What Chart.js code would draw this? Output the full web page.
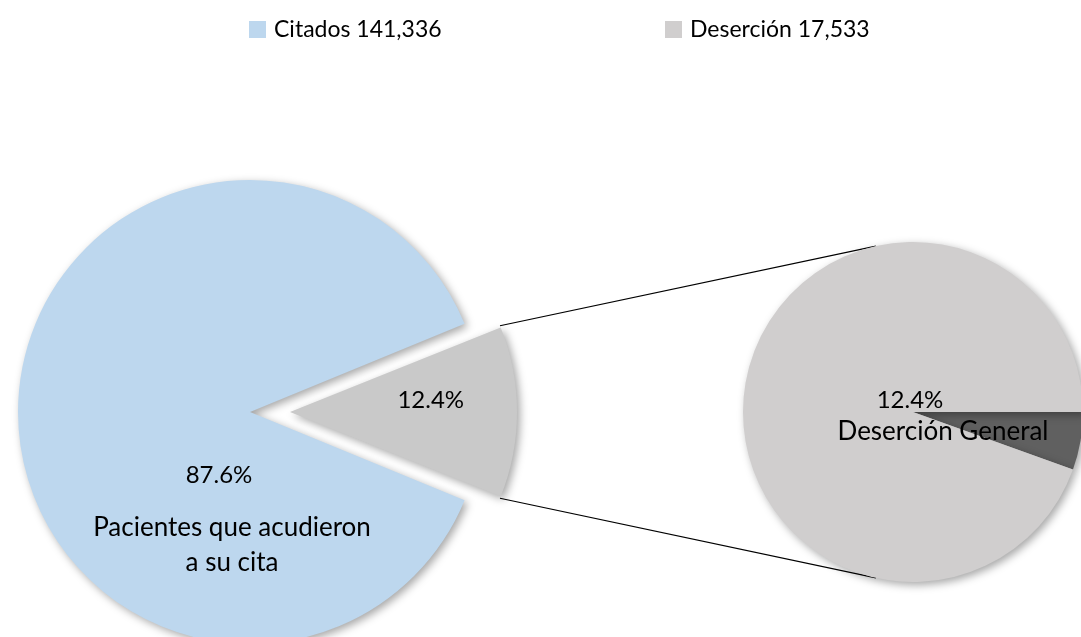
<!DOCTYPE html>
<html>
<head>
<meta charset="utf-8">
<script src="https://cdn.jsdelivr.net/npm/chart.js@4/dist/chart.umd.min.js"></script>
<style>
    html, body { margin: 0; padding: 0; background: #fff; overflow: hidden; }
    #wrap { position: relative; width: 1081px; height: 637px; }
    #wrap canvas { position: absolute; left: 0; top: 0; }
</style>
</head>
<body>
<div id="wrap">
    <canvas id="pieMain" width="1081" height="637"></canvas>
    <canvas id="pieSub" width="1081" height="637"></canvas>
</div>
<script>
"use strict"

// *** DATOS *** //
const legendLabels = ["Citados 141,336", "Deserción 17,533"];
const mainLabels = ["Pacientes que acudieron a su cita", "Deserción"];
const mainValues = [123803, 17533];
const mainPct = ["87.6%", "12.4%"];
const subLabels = ["Otros", "Deserción General"];
const subValues = [5.5, 94.5];
const subPct = ["", "12.4%"];

const colBlue = "#BDD7EE", colGray = "#C9C9C9", colGrayLight = "#D0CECE", colDark = "#606060";
const font = "Lato, 'Open Sans', sans-serif";
const explode = 40;      // px que se separa la rebanada
const grayRadius = 227;  // radio visible de la rebanada separada

let shadow = {
    id: "shadow",
    beforeDatasetsDraw(chart) {
        let ctx = chart.ctx;
        ctx.save();
        ctx.shadowColor = "rgba(0,0,0,0.35)";
        ctx.shadowBlur = 9;
        ctx.shadowOffsetX = 3;
        ctx.shadowOffsetY = 3;
    },
    afterDatasetsDraw(chart) {
        chart.ctx.restore();
    }
};

function text (ctx, str, x, y, size) {
    ctx.font = size + "px " + font;
    ctx.fillStyle = "#000";
    ctx.textAlign = "center";
    ctx.textBaseline = "middle";
    ctx.fillText(str, x, y);
}

// chart.js dibuja la rebanada con offset/4 y le suma radio extra
function radiusFix (arc) {
    return 1 - Math.sin(Math.min(Math.PI, arc.circumference || 0));
}

// *** PASTEL PRINCIPAL *** //
let grayDeg = mainValues[1] / (mainValues[0] + mainValues[1]) * 360;

let mainChart = new Chart(document.getElementById("pieMain"), {
    type: "pie",
    data: {
        labels: mainLabels,
        datasets: [{
            data: mainValues,
            backgroundColor: [colBlue, colGray],
            borderWidth: 0,
            offset: [0, explode * 4]
        }]
    },
    options: {
        responsive: false,
        animation: false,
        radius: 232,
        rotation: 90 + grayDeg / 2,
        layout: { padding: { left: 0, right: 581, top: 187, bottom: 0 } },
        plugins: { legend: { display: false }, tooltip: { enabled: false } }
    },
    plugins: [{
        id: "grayRadius",
        afterDatasetUpdate(chart, args) {
            let g = args.meta.data[1];
            g.outerRadius = grayRadius - explode * radiusFix(g);
        }
    }, shadow, {
        id: "labelsMain",
        afterDraw(chart) {
            let ctx = chart.ctx;
            let arcs = chart.getDatasetMeta(0).data;
            let a = arcs[0], g = arcs[1];
            text(ctx, mainPct[0], a.x - 31, a.y + 63, 24);
            text(ctx, "Pacientes que acudieron", a.x - 18, a.y + 116, 26);
            text(ctx, "a su cita", a.x - 18, a.y + 151, 26);
            let mid = (g.startAngle + g.endAngle) / 2;
            let d = explode + grayRadius * 0.62;
            text(ctx, mainPct[1], g.x + Math.cos(mid) * d, g.y + Math.sin(mid) * d - 12, 24);

            // leyenda
            let items = [[249, colBlue], [665, colGrayLight]];
            ctx.font = "23px " + font;
            ctx.textAlign = "left";
            ctx.textBaseline = "middle";
            items.forEach(function (it, i) {
                ctx.fillStyle = it[1];
                ctx.fillRect(it[0], 21, 17, 17);
                ctx.fillStyle = "#000";
                ctx.fillText(legendLabels[i], it[0] + 25, 30);
            });
        }
    }]
});

// *** PASTEL SECUNDARIO *** //
new Chart(document.getElementById("pieSub"), {
    type: "pie",
    data: {
        labels: subLabels,
        datasets: [{
            data: subValues,
            backgroundColor: [colDark, colGrayLight],
            borderWidth: 0
        }]
    },
    options: {
        responsive: false,
        animation: false,
        radius: 170,
        rotation: 90,
        layout: { padding: { left: 745, right: 0, top: 242, bottom: 55 } },
        plugins: { legend: { display: false }, tooltip: { enabled: false } }
    },
    plugins: [{
        id: "connectors",
        beforeDatasetsDraw(chart) {
            let ctx = chart.ctx;
            let g = mainChart.getDatasetMeta(0).data[1];
            let sub = chart.getDatasetMeta(0).data[0];
            let mid = (g.startAngle + g.endAngle) / 2;
            let ox = g.x + Math.cos(mid) * explode;
            let oy = g.y + Math.sin(mid) * explode;
            let ends = [g.startAngle, g.endAngle];
            let subAng = [-102.6, 102.6];
            ctx.save();
            ctx.strokeStyle = "#000";
            ctx.lineWidth = 1.2;
            ends.forEach(function (ang, i) {
                let r = subAng[i] * Math.PI / 180;
                ctx.beginPath();
                ctx.moveTo(ox + Math.cos(ang) * grayRadius, oy + Math.sin(ang) * grayRadius);
                ctx.lineTo(sub.x + Math.cos(r) * sub.outerRadius, sub.y + Math.sin(r) * sub.outerRadius);
                ctx.stroke();
            });
            ctx.restore();
        }
    }, shadow, {
        id: "labelsSub",
        afterDraw(chart) {
            let ctx = chart.ctx;
            let s = chart.getDatasetMeta(0).data[1];
            text(ctx, subPct[1], s.x - 3, s.y - 12, 24);
            text(ctx, subLabels[1], s.x + 30, s.y + 20, 26);
        }
    }]
});
</script>
</body>
</html>
